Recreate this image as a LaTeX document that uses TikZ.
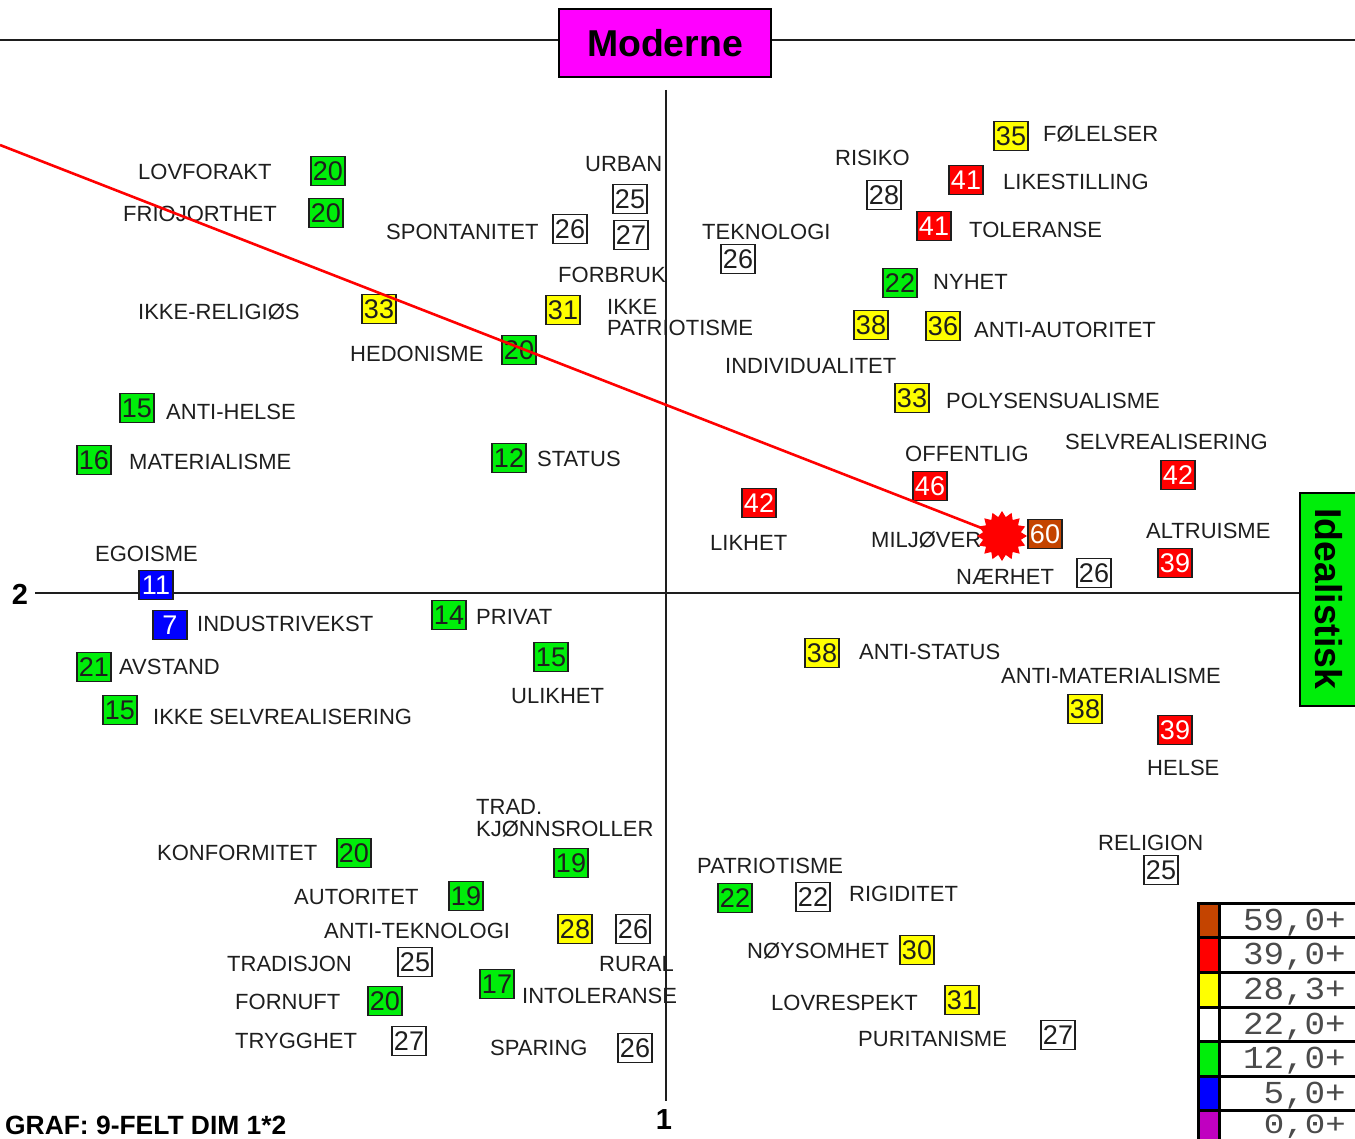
\documentclass[tikz,border=0pt]{standalone}
\usepackage{fontspec}
\setmainfont{Liberation Sans}
\newfontfamily\legfont{Liberation Mono}
\usetikzlibrary{shapes.geometric}
\definecolor{brn}{RGB}{196,68,0}
\definecolor{grn}{RGB}{0,238,10}
\definecolor{yel}{RGB}{255,255,0}
\definecolor{blu}{RGB}{0,0,255}
\definecolor{mag}{RGB}{255,0,255}
\definecolor{vio}{RGB}{192,0,192}
\definecolor{ink}{RGB}{30,30,30}
\tikzset{
 lab/.style={anchor=west,inner sep=0pt,text height=15.5pt,text depth=0pt,text=ink,font=\fontsize{22}{22}\selectfont},
 numbox/.style={draw=ink,line width=1.8pt,minimum width=34pt,minimum height=29pt,inner sep=0pt,text height=19pt,text depth=0pt,font=\fontsize{27}{27}\selectfont},
 bw/.style={numbox,fill=white,text=ink},
 bg/.style={numbox,fill=grn,text=ink},
 by/.style={numbox,fill=yel,text=ink},
 br/.style={numbox,fill=red,text=white},
 bb/.style={numbox,fill=blu,text=white},
 bn/.style={numbox,fill=brn,text=white},
 axis/.style={draw=ink,line width=1.6pt},
 title/.style={draw=black,line width=2pt,inner sep=0pt,font=\fontsize{37.4}{37.4}\selectfont\bfseries},
 swatch/.style={draw=black,line width=3pt,minimum width=21pt,minimum height=35pt,inner sep=0pt},
 legrow/.style={draw=black,line width=3pt,minimum width=140pt,minimum height=35pt,inner sep=0pt},
 legtext/.style={anchor=east,inner sep=0pt,xscale=1.07,text=ink!80,font=\legfont\fontsize{32}{32}\selectfont},
 legtextlow/.style={anchor=east,inner sep=0pt,xscale=1.22,text=ink!80,font=\legfont\fontsize{28}{28}\selectfont}
}
\begin{document}
\begin{tikzpicture}[x=1pt,y=-1pt]
\useasboundingbox (0,0) rectangle (1355,1139);
\clip (0,0) rectangle (1355,1139);
\fill[white] (0,0) rectangle (1355,1139);
% titles
\node[title,fill=mag,minimum width=212pt,minimum height=68pt] (moderne) at (665,43) {Moderne};
\node[title,fill=grn,minimum width=213pt,minimum height=58pt,rotate=-90] (ideal) at (1329,599) {Idealistisk};
\coordinate (tl) at (0,40); \coordinate (tr) at (1355,40);
\coordinate (hl) at (35,593); \coordinate (vt) at (666,90); \coordinate (vb) at (666,1101);
\draw[axis] (tl) -- (moderne.west |- tl);
\draw[axis] (moderne.east |- tr) -- (tr);
\draw[axis] (hl) -- (ideal.south |- hl);
\draw[axis] (vt) -- (vb);
\node[font=\fontsize{29}{29}\selectfont\bfseries] (two) at (20,594) {2};
\node[font=\fontsize{29}{29}\selectfont\bfseries] (one) at (664,1120) {1};
\node[anchor=west,inner sep=0pt,font=\fontsize{26.4}{26.4}\selectfont\bfseries] (graf) at (5,1125) {GRAF: 9-FELT DIM 1*2};
% labels
\foreach \x/\y/\t [count=\i] in {
138/172/LOVFORAKT,123/214/FRIOJORTHET,585/164/URBAN,386/232/SPONTANITET,558/275/FORBRUK,
607/307/IKKE,607/328/PATRIOTISME,835/158/RISIKO,702/232/TEKNOLOGI,1043/134/FØLELSER,
1003/182/LIKESTILLING,969/230/TOLERANSE,933/282/NYHET,974/330/ANTI-AUTORITET,725/366/INDIVIDUALITET,
946/401/POLYSENSUALISME,905/454/OFFENTLIG,1065/442/SELVREALISERING,138/312/IKKE-RELIGIØS,350/354/HEDONISME,
166/412/ANTI-HELSE,129/462/MATERIALISME,537/459/STATUS,710/543/LIKHET,871/540/MILJØVER,
1146/531/ALTRUISME,956/577/NÆRHET,95/554/EGOISME,197/624/INDUSTRIVEKST,476/617/PRIVAT,
119/667/AVSTAND,511/696/ULIKHET,153/717/IKKE SELVREALISERING,859/652/ANTI-STATUS,1001/676/ANTI-MATERIALISME,
1147/768/HELSE,476/807/TRAD.,476/829/KJØNNSROLLER,157/853/KONFORMITET,294/897/AUTORITET,
324/931/ANTI-TEKNOLOGI,227/964/TRADISJON,599/964/RURAL,522/996/INTOLERANSE,235/1002/FORNUFT,
235/1041/TRYGGHET,490/1048/SPARING,697/866/PATRIOTISME,849/894/RIGIDITET,747/951/NØYSOMHET,
771/1003/LOVRESPEKT,858/1039/PURITANISME,1098/843/RELIGION}
 \node[lab] (lab\i) at (\x,\y) {\t};
% value boxes
\foreach \x/\y/\n/\c [count=\i] in {
328/171/20/bg,326/213/20/bg,630/199/25/bw,570/229/26/bw,631/235/27/bw,563/310/31/by,379/309/33/by,519/350/20/bg,
137/408/15/bg,94/460/16/bg,509/458/12/bg,884/195/28/bw,738/259/26/bw,1011/136/35/by,966/180/41/br,934/226/41/br,
900/283/22/bg,871/325/38/by,943/326/36/by,912/398/33/by,930/486/46/br,1178/475/42/br,759/503/42/br,1045/534/60/bn,
1175/563/39/br,1094/573/26/bw,156/585/11/bb,170/625/7/bb,449/615/14/bg,94/667/21/bg,120/710/15/bg,551/657/15/bg,
822/653/38/by,1085/709/38/by,1175/730/39/br,354/853/20/bg,571/863/19/bg,466/896/19/bg,735/898/22/bg,813/897/22/bw,
1161/870/25/bw,575/929/28/by,633/929/26/bw,415/962/25/bw,497/984/17/bg,385/1001/20/bg,409/1041/27/bw,635/1048/26/bw,
917/950/30/by,962/1000/31/by,1058/1035/27/bw}
 \node[\c] (box\i) at (\x,\y) {\n};
% red line and star
\coordinate (rl) at (0,145);
\node[star,star points=16,star point ratio=1.3,fill=red,inner sep=0pt,minimum size=50pt] (hit) at (1002,536) {};
\draw[red,line width=2.6pt] (rl) -- (hit.center);
% legend
\foreach \y/\ty/\f/\t/\s [count=\i] in {921/923/brn/59{,}0+/legtext,955/957/red/39{,}0+/legtext,990/992/yel/28{,}3+/legtext,1025/1027/white/22{,}0+/legtext,1059/1061/grn/12{,}0+/legtext,1094/1096/blu/5{,}0+/legtext,1128/1127/vio/0{,}0+/legtextlow}{
 \node[swatch,fill=\f] (sw\i) at (1209,\y) {};
 \node[legrow,fill=white] (row\i) at (1289,\y) {};
 \node[\s] (lt\i) at (1346,\ty) {\t};
}
\end{tikzpicture}
\end{document}
